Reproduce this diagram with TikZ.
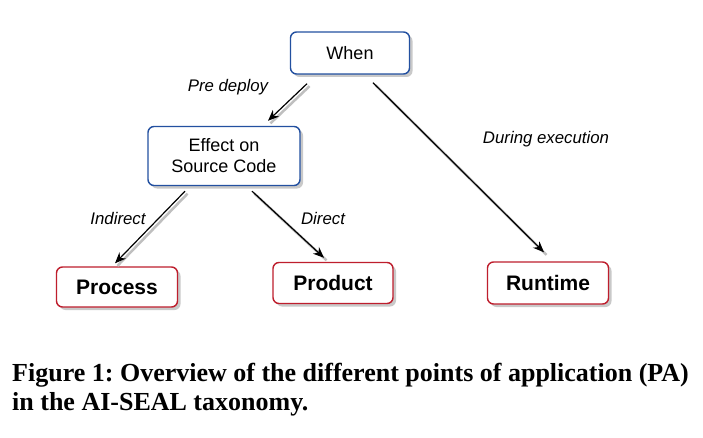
\documentclass[tikz,border=0pt]{standalone}
\usepackage{fontspec}
\setmainfont{Liberation Serif}
\newfontfamily\arialfont{Liberation Sans}
\usetikzlibrary{shadows,arrows.meta}
\definecolor{boxblue}{RGB}{35,80,160}
\definecolor{boxred}{RGB}{190,30,45}
\tikzset{
  shadowed/.style={drop shadow={shadow xshift=3pt,shadow yshift=-3pt,opacity=0.35,fill=black!60}},
  bluebox/.style={draw=boxblue,line width=1.4pt,rounded corners=6pt,fill=white,shadowed,
    font=\arialfont\fontsize{18}{21}\selectfont,align=center,inner sep=0pt},
  redbox/.style={draw=boxred,line width=1.4pt,rounded corners=6pt,fill=white,shadowed,
    font=\arialfont\bfseries\fontsize{21}{25}\selectfont,inner sep=0pt},
  arr/.style={line width=1.2pt,-{Stealth[length=11pt,width=9pt]},
    preaction={draw=black!25,line width=2.5pt,transform canvas={xshift=2.5pt,yshift=-2.5pt},-}},
  lbl/.style={font=\arialfont\itshape\fontsize{16.8}{20}\selectfont,inner sep=0pt},
}
\begin{document}
\begin{tikzpicture}[x=1pt,y=1pt]
\useasboundingbox[fill=white] (0,0) rectangle (703,437);
\node[bluebox,minimum width=119pt,minimum height=42pt] (when) at (350,384) {When};
\node[bluebox,minimum width=152pt,minimum height=59pt] (effect) at (224,281) {Effect on\\Source Code};
\node[redbox,minimum width=121pt,minimum height=40pt] (process) at (117,150) {Process};
\node[redbox,minimum width=120pt,minimum height=41pt] (product) at (333,154) {Product};
\node[redbox,minimum width=121pt,minimum height=42pt] (runtime) at (548,154) {Runtime};

\draw[arr] ([xshift=-43pt,yshift=-9pt]when.south) -- ([xshift=44pt,yshift=5pt]effect.north);
\draw[arr] ([xshift=23pt,yshift=-8pt]when.south) -- ([xshift=-4pt,yshift=9pt]runtime.north);
\draw[arr] ([xshift=-39pt,yshift=-5pt]effect.south) -- ([xshift=-2pt,yshift=3pt]process.north);
\draw[arr] ([xshift=28pt,yshift=-5pt]effect.south) -- ([xshift=-9pt,yshift=4pt]product.north);

\node[lbl] (l1) at (228,350) {Pre deploy};
\node[lbl] (l2) at (546,298) {During execution};
\node[lbl] (l3) at (118,219) {Indirect};
\node[lbl] (l4) at (323,219) {Direct};

\node[anchor=base west,inner sep=0pt,font=\bfseries\fontsize{26}{29}\selectfont,align=left] (cap) at (12,27)
  {\frenchspacing Figure 1: Overview of the different points of application (PA)\\in the AI-SEAL taxonomy.};
\end{tikzpicture}
\end{document}
